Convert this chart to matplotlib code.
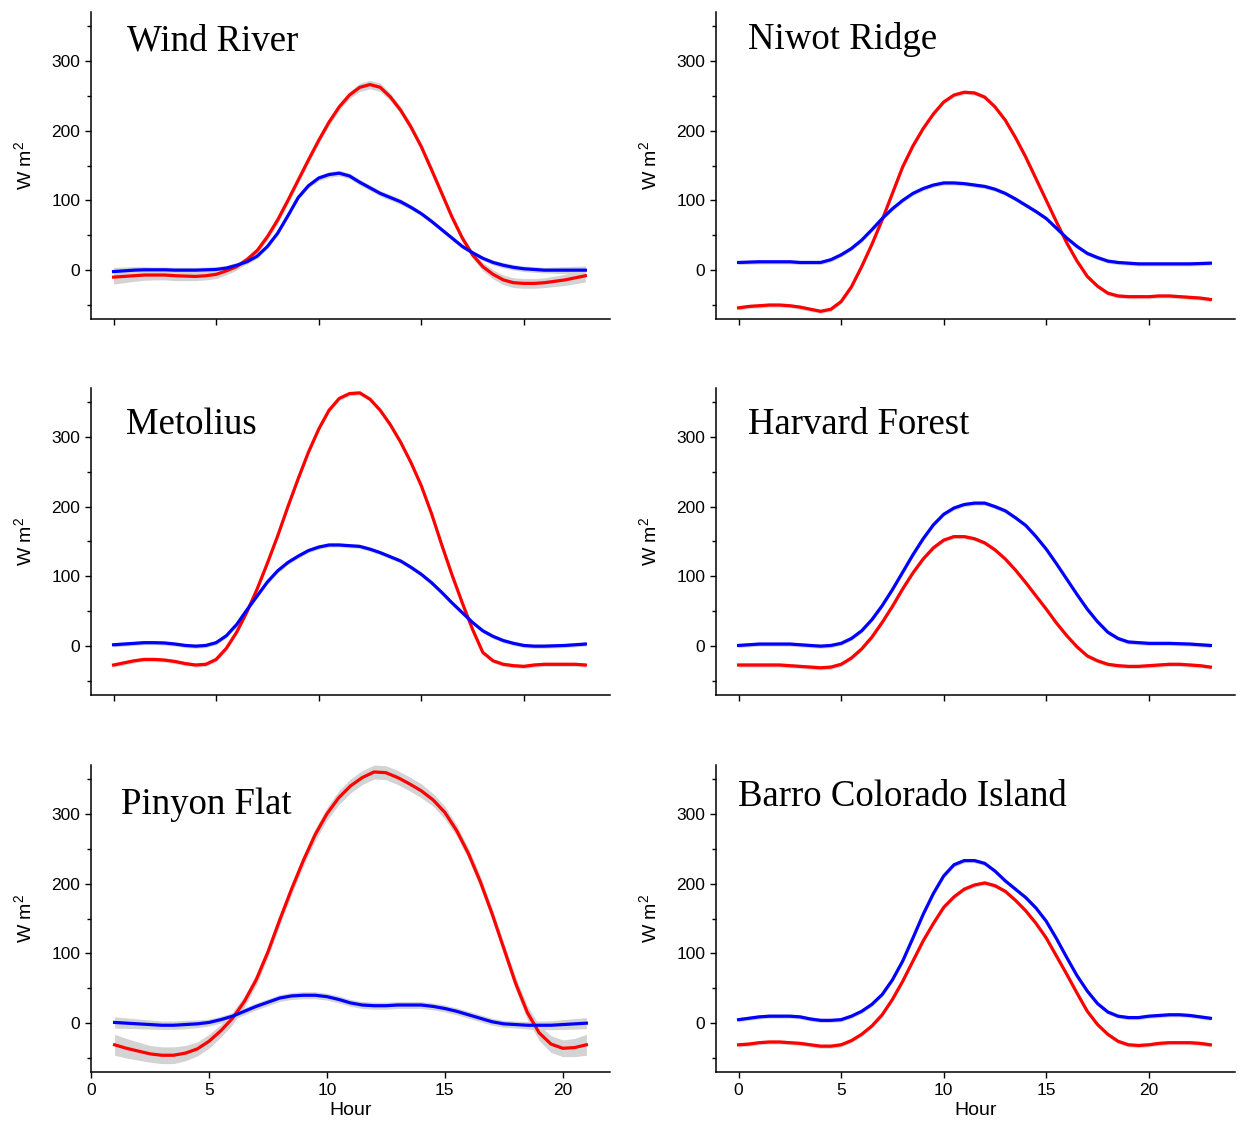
from matplotlib import pyplot
from matplotlib.ticker import MultipleLocator
import numpy as np

pyplot.rcParams['font.family'] = 'Liberation Sans'
pyplot.rcParams['mathtext.fontset'] = 'custom'
pyplot.rcParams['mathtext.rm'] = 'Liberation Sans'
pyplot.rcParams['mathtext.it'] = 'Liberation Sans:italic'

# half-hourly readings
hours = [i / 2. for i in range(47)]            # 0 .. 23
hours_pinyon = [1 + i / 2. for i in range(41)]  # 1 .. 21

wind_red = [-10, -9, -8, -7, -7, -7, -8, -8.5, -9, -8,
            -6, -1, 5, 15, 28, 48, 72, 100, 129, 158,
            186, 212, 234, 251, 262, 266, 262, 248, 229, 205,
            177, 144, 110, 76, 46, 22, 5, -6, -14, -18,
            -19, -19, -18, -16, -14, -11, -8]
wind_blue = [-2, -1, 0, 0.5, 0.5, 0.5, 0, 0, 0, 0.5,
             1, 3, 7, 12, 20, 34, 53, 78, 104, 121,
             132, 137, 139, 135, 126, 118, 110, 104, 98, 90,
             81, 70, 58, 46, 34, 25, 17, 11, 7, 4,
             2, 1, 0, 0, 0, 0, 0]
wind_red_se = [10, 9, 8, 7.5, 7, 7, 7, 6.5, 6, 6,
               6, 5.5, 5, 5, 5, 5, 5, 5, 5, 5,
               5, 5, 5, 5, 6, 6, 6, 5.5, 5, 5,
               5, 5, 5, 5, 5, 5, 6, 6.5, 7, 7,
               7, 7, 7, 7.5, 8, 8.5, 9]
wind_blue_se = [6, 5.5, 5, 4.5, 4, 4, 4, 4, 4, 4,
                4, 4, 4, 3.5, 3, 3, 3, 3, 3, 3.5,
                4, 4, 4, 4, 4, 4, 4, 4, 4, 3.5,
                3, 3, 3, 3, 3, 3, 3, 3.5, 4, 4,
                4, 4, 4, 4.5, 5, 5.5, 6]

niwot_red = [-54, -52, -51, -50, -50, -51, -53, -56, -59, -56,
             -45, -24, 5, 37, 72, 110, 148, 178, 203, 224,
             241, 251, 255, 254, 248, 234, 215, 190, 162, 131,
             100, 69, 39, 13, -9, -23, -33, -37, -38, -38,
             -38, -37, -37, -38, -39, -40, -42]
niwot_blue = [11, 11.5, 12, 12, 12, 12, 11, 11, 11, 15,
              22, 31, 43, 58, 74, 88, 100, 110, 117, 122,
              125, 125, 124, 122, 120, 116, 110, 102, 93, 84,
              74, 60, 46, 34, 24, 18, 13, 11, 10, 9,
              9, 9, 9, 9, 9, 9.5, 10]

metolius_red = [-27, -24, -21, -19, -19, -20, -22, -25, -27, -26,
                -19, -3, 20, 49, 82, 119, 158, 200, 240, 278,
                311, 338, 355, 362, 363, 354, 338, 317, 292, 263,
                230, 190, 145, 102, 62, 24, -9, -21, -26, -28,
                -29, -27, -26, -26, -26, -26, -27]
metolius_blue = [2, 3, 4, 5, 5, 4.5, 3, 1, 0, 1,
                 5, 15, 31, 52, 72, 92, 108, 120, 129, 137,
                 142, 145, 145, 144, 143, 139, 134, 128, 122, 113,
                 103, 91, 77, 62, 48, 34, 22, 14, 8, 4,
                 1, 0, 0, 0.5, 1, 2, 3]

harvard_red = [-27, -27, -27, -27, -27, -28, -29, -30, -31, -30,
               -26, -17, -4, 13, 34, 57, 82, 105, 125, 141,
               152, 157, 157, 154, 148, 138, 125, 109, 91, 72,
               53, 33, 15, -1, -14, -21, -26, -28, -29, -29,
               -28, -27, -26, -26, -27, -28, -30]
harvard_blue = [1, 2, 3, 3, 3, 3, 2, 1, 0, 1,
                4, 11, 22, 38, 58, 81, 106, 131, 154, 174,
                189, 198, 203, 205, 205, 200, 194, 184, 173, 157,
                139, 118, 96, 74, 53, 35, 20, 11, 6, 5,
                4, 4, 4, 3.5, 3, 2, 1]

pinyon_red = [-31, -36, -40, -44, -46, -46, -43, -37, -26, -11,
              7, 31, 62, 102, 148, 192, 233, 270, 300, 323,
              340, 352, 360, 359, 352, 343, 333, 320, 302, 276,
              243, 203, 157, 107, 57, 15, -14, -30, -36, -35,
              -31]
pinyon_blue = [1, 0, -1, -2, -3, -3, -2, -1, 1, 5,
               10, 17, 24, 30, 36, 39, 40, 40, 38, 34,
               29, 26, 25, 25, 26, 26, 26, 24, 21, 17,
               12, 7, 2, -1, -2, -3, -3, -3, -2, -1,
               0]
pinyon_red_se = [15, 14, 13, 12, 12, 12, 11, 10, 10, 9,
                 9, 8, 8, 8, 8, 8, 8, 9, 9, 10,
                 10, 10, 10, 10, 10, 10, 10, 9, 9, 8,
                 8, 8, 8, 8, 9, 10, 11, 12, 12, 13,
                 15]
pinyon_blue_se = [8, 7.5, 7, 6.5, 6, 6, 6, 5.5, 5, 5,
                  5, 5, 5, 5, 5, 5, 5, 5, 5, 5,
                  5, 5, 5, 5, 5, 5, 5, 5, 5, 5,
                  5, 5, 5, 5, 5, 5.5, 6, 6.5, 7, 7.5,
                  8]

barro_red = [-31, -30, -28, -27, -27, -28, -29, -31, -33, -33,
             -31, -25, -16, -4, 12, 34, 60, 89, 118, 143,
             166, 181, 192, 198, 201, 197, 189, 176, 161, 143,
             122, 96, 70, 43, 17, -2, -16, -26, -31, -32,
             -31, -29, -28, -28, -28, -29, -31]
barro_blue = [5, 7, 9, 10, 10, 10, 9, 6, 4, 4,
              5, 10, 17, 27, 41, 62, 89, 122, 156, 186,
              211, 227, 233, 233, 229, 218, 204, 192, 180, 165,
              146, 121, 94, 68, 46, 28, 16, 10, 8, 8,
              10, 11, 12, 12, 11, 9, 7]

thin_se = 3


def draw_panel(rect, x, red, blue, red_se, blue_se, title, title_pos, xlim, bottom_row):
    ax = fig.add_axes(rect)
    red = np.array(red, dtype=float)
    blue = np.array(blue, dtype=float)
    ax.fill_between(x, red - np.array(red_se), red + np.array(red_se), color='#d3d3d3', lw=0)
    ax.fill_between(x, blue - np.array(blue_se), blue + np.array(blue_se), color='#d3d3d3', lw=0)
    ax.plot(x, red, color='#ff0000', lw=2.3, solid_joinstyle='round')
    ax.plot(x, blue, color='#0000ff', lw=2.3, solid_joinstyle='round')
    ax.set_xlim(*xlim)
    ax.set_ylim(-70, 370)
    ax.set_yticks([0, 100, 200, 300])
    ax.yaxis.set_minor_locator(MultipleLocator(50))
    ax.set_xticks([0, 5, 10, 15, 20])
    ax.spines['top'].set_visible(False)
    ax.spines['right'].set_visible(False)
    for s in ['left', 'bottom']:
        ax.spines[s].set_linewidth(1.1)
    ax.tick_params(which='major', direction='out', length=4.2, width=1, labelsize=12.5)
    ax.tick_params(which='minor', direction='out', length=3, width=1)
    if not bottom_row:
        ax.tick_params(axis='x', labelbottom=False)
    else:
        ax.set_xlabel('Hour', fontsize=14)
        ax.xaxis.set_label_coords(0.5, -0.098)
    ax.set_ylabel('W m$^2$', fontsize=14)
    ax.yaxis.set_label_coords(-0.108, 0.5)
    ax.text(title_pos[0], title_pos[1], title, transform=ax.transAxes, family='Liberation Serif',
            fontsize=26.5, ha='left', va='baseline')
    return ax


fig = pyplot.figure(figsize=(12.43, 11.30), dpi=100)

left_x = 91 / 1243.
right_x = 716 / 1243.
w = 519 / 1243.
h = 307 / 1130.
rows = [1 - 319 / 1130., 1 - 695 / 1130., 1 - 1072 / 1130.]
xl_main = (-1.1, 24.2)

draw_panel([left_x, rows[0], w, h], hours, wind_red, wind_blue, wind_red_se, wind_blue_se,
           'Wind River', (0.069, 0.873), xl_main, False)
draw_panel([right_x, rows[0], w, h], hours, niwot_red, niwot_blue, thin_se, thin_se,
           'Niwot Ridge', (0.062, 0.879), xl_main, False)
draw_panel([left_x, rows[1], w, h], hours, metolius_red, metolius_blue, thin_se, thin_se,
           'Metolius', (0.067, 0.850), xl_main, False)
draw_panel([right_x, rows[1], w, h], hours, harvard_red, harvard_blue, thin_se, thin_se,
           'Harvard Forest', (0.062, 0.850), xl_main, False)
draw_panel([left_x, rows[2], w, h], hours_pinyon, pinyon_red, pinyon_blue, pinyon_red_se, pinyon_blue_se,
           'Pinyon Flat', (0.058, 0.840), (0, 22), True)
draw_panel([right_x, rows[2], w, h], hours, barro_red, barro_blue, thin_se, thin_se,
           'Barro Colorado Island', (0.042, 0.866), xl_main, True)

fig.savefig('out.png', dpi=100)
